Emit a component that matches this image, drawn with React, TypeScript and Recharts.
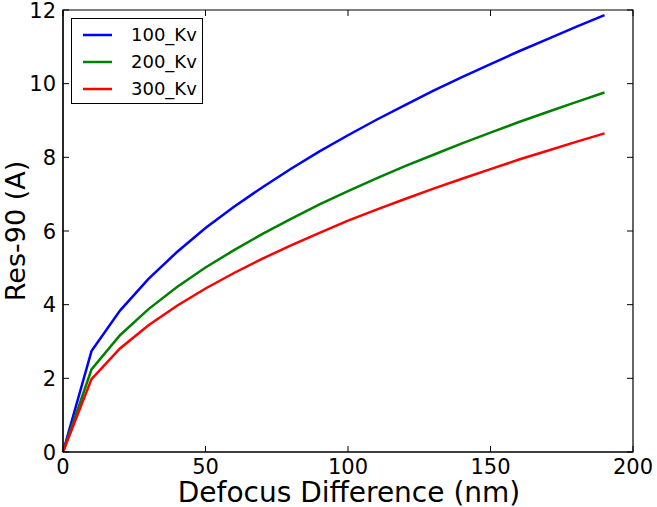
import React from "react";
import { LineChart, Line, XAxis, YAxis, Legend, ReferenceArea } from "recharts";

const defocus = [0, 10, 20, 30, 40, 50, 60, 70, 80, 90, 100, 110, 120, 130, 140, 150, 160, 170, 180, 190];
const kv100 = [0, 2.74, 3.84, 4.7, 5.43, 6.08, 6.66, 7.19, 7.69, 8.16, 8.6, 9.02, 9.42, 9.81, 10.18, 10.53, 10.88, 11.21, 11.54, 11.86];
const kv200 = [0, 2.24, 3.17, 3.88, 4.48, 5.01, 5.48, 5.92, 6.33, 6.72, 7.08, 7.43, 7.76, 8.07, 8.38, 8.67, 8.96, 9.23, 9.5, 9.76];
const kv300 = [0, 1.98, 2.81, 3.44, 3.97, 4.44, 4.86, 5.25, 5.61, 5.95, 6.28, 6.58, 6.87, 7.15, 7.42, 7.68, 7.94, 8.18, 8.42, 8.65];
const xTicks = [0, 50, 100, 150, 200];
const yTicks = [0, 2, 4, 6, 8, 10, 12];
const seriesNames = ["100_Kv", "200_Kv", "300_Kv"];
const seriesColors = ["#0000ff", "#008000", "#ff0000"];

const data = defocus.map((d, i) => ({ x: d, a: kv100[i], b: kv200[i], c: kv300[i] }));

const FONT = "'DejaVu Sans', sans-serif";
const TICK_LEN = 6;
const W = 657;
const H = 507;
const M_TOP = 10;
const M_RIGHT = 24;
const PLOT_TOP = M_TOP;
const PLOT_RIGHT = W - M_RIGHT;

const BottomTick = (props: any) => {
  const { x, y, payload } = props;
  return (
    <g>
      <line x1={x} x2={x} y1={y} y2={y - TICK_LEN} stroke="#000" strokeWidth={1} />
      <line x1={x} x2={x} y1={PLOT_TOP} y2={PLOT_TOP + TICK_LEN} stroke="#000" strokeWidth={1} />
      <text x={x} y={y + 22} textAnchor="middle" fontFamily={FONT} fontSize={21} fill="#000">
        {payload.value}
      </text>
    </g>
  );
};
const LeftTick = (props: any) => {
  const { x, y, payload } = props;
  return (
    <g>
      <line x1={x} x2={x + TICK_LEN} y1={y} y2={y} stroke="#000" strokeWidth={1} />
      <line x1={PLOT_RIGHT} x2={PLOT_RIGHT - TICK_LEN} y1={y} y2={y} stroke="#000" strokeWidth={1} />
      <text x={x - 7} y={y + 7.6} textAnchor="end" fontFamily={FONT} fontSize={21} fill="#000">
        {payload.value}
      </text>
    </g>
  );
};

const LegendBox = () => (
  <div
    style={{
      width: 130,
      height: 84,
      border: "1px solid #000",
      background: "#fff",
      boxSizing: "content-box",
      fontFamily: FONT,
      fontSize: 18,
      position: "relative",
    }}
  >
    {seriesNames.map((n, i) => (
      <div key={n} style={{ position: "absolute", left: 0, top: 4 + i * 27, height: 27, width: 130 }}>
        <svg width={50} height={27} style={{ position: "absolute", left: 0, top: 0 }}>
          <line x1={11} x2={40} y1={12} y2={12} stroke={seriesColors[i]} strokeWidth={2.5} />
        </svg>
        <span style={{ position: "absolute", left: 59, top: 1, lineHeight: "22px", color: "#000" }}>{n}</span>
      </div>
    ))}
  </div>
);

export default function App() {
  return (
    <div style={{ position: "absolute", left: 0, top: 0, width: W, height: H, background: "#fff" }}>
      <LineChart width={W} height={H} data={data} margin={{ top: M_TOP, right: M_RIGHT, bottom: 0, left: 0 }}>
        <XAxis
          dataKey="x"
          type="number"
          domain={[0, 200]}
          ticks={xTicks}
          tickSize={0}
          tickMargin={0}
          tickLine={false}
          tick={<BottomTick />}
          height={55}
          axisLine={{ stroke: "#000", strokeWidth: 1.2 }}
          interval={0}
        />
        <YAxis
          type="number"
          domain={[0, 12]}
          ticks={yTicks}
          tickSize={0}
          tickMargin={0}
          tickLine={false}
          tick={<LeftTick />}
          width={63}
          axisLine={{ stroke: "#000", strokeWidth: 1.2 }}
          interval={0}
        />
        <ReferenceArea x1={0} x2={200} y1={0} y2={12} fill="none" fillOpacity={0} stroke="#000" strokeWidth={1.2} ifOverflow="extendDomain" />
        <Legend
          layout="vertical"
          verticalAlign="middle"
          align="center"
          content={<LegendBox />}
          wrapperStyle={{ position: "absolute", left: 71, top: 18, width: 132 }}
        />
        <Line dataKey="a" name={seriesNames[0]} stroke={seriesColors[0]} strokeWidth={2.5} dot={false} isAnimationActive={false} />
        <Line dataKey="b" name={seriesNames[1]} stroke={seriesColors[1]} strokeWidth={2.5} dot={false} isAnimationActive={false} />
        <Line dataKey="c" name={seriesNames[2]} stroke={seriesColors[2]} strokeWidth={2.5} dot={false} isAnimationActive={false} />
        <text x={349} y={501.5} textAnchor="middle" fontFamily={FONT} fontSize={28} fill="#000">
          Defocus Difference (nm)
        </text>
        <text
          x={25}
          y={231}
          transform="rotate(-90, 25, 231)"
          textAnchor="middle"
          fontFamily={FONT}
          fontSize={27}
          fill="#000"
        >
          Res-90 (A)
        </text>
      </LineChart>
    </div>
  );
}
